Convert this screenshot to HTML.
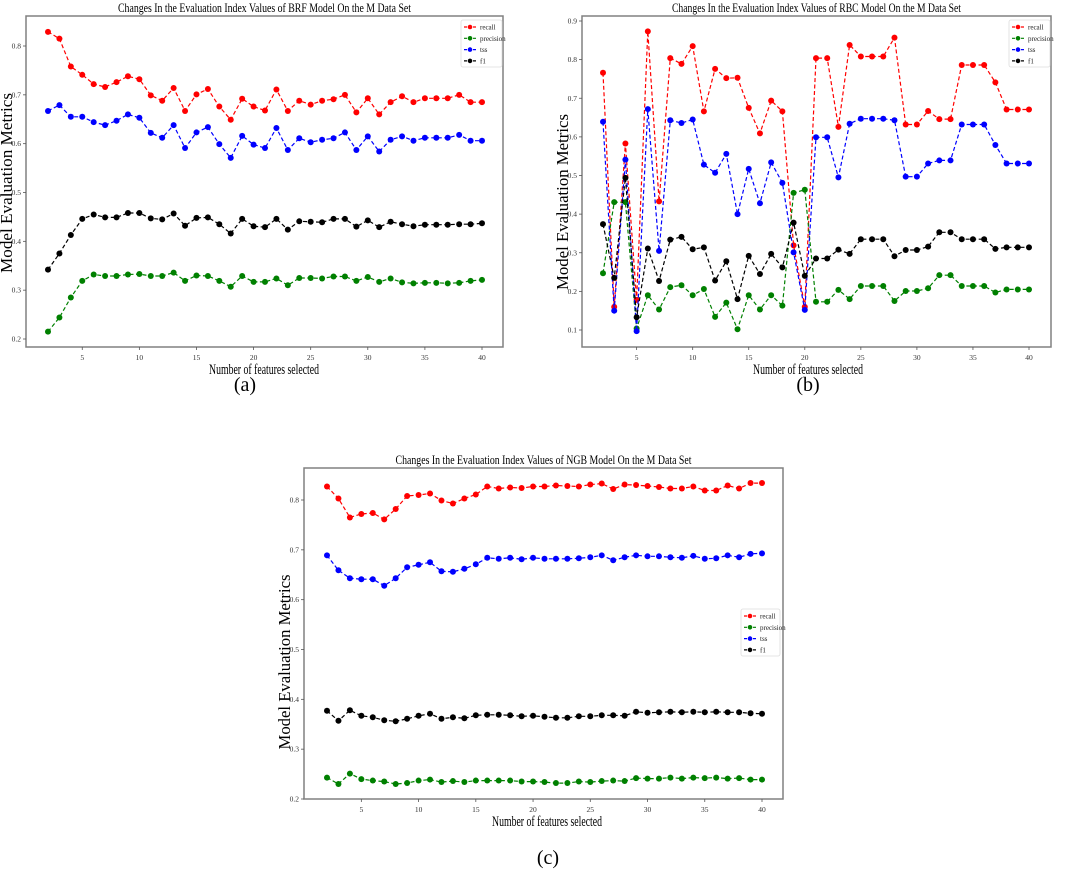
<!DOCTYPE html>
<html><head><meta charset="utf-8"><style>
html,body{margin:0;padding:0;background:#fff;}
svg{display:block;}
text{font-family:"Liberation Serif",serif;}
</style></head><body>
<svg id="fig" width="1065" height="880" viewBox="0 0 1065 880" xmlns="http://www.w3.org/2000/svg">
<text x="245" y="391" font-size="20" text-anchor="middle">(a)</text>
<text x="808" y="391" font-size="20" text-anchor="middle">(b)</text>
<text x="548" y="864" font-size="20" text-anchor="middle">(c)</text>
</svg>
<script>
// x values (number of features)
const featureCounts = [2,3,4,5,6,7,8,9,10,11,12,13,14,15,16,17,18,19,20,21,22,23,24,25,26,27,28,29,30,31,32,33,34,35,36,37,38,39,40];
const xTicks = [5,10,15,20,25,30,35,40];
const seriesNames = ["recall","precision","tss","f1"];
const seriesColors = ["#ff0000","#008000","#0000ff","#000000"];

// Chart A: BRF
const brfRecall = [.829,.815,.758,.741,.722,.716,.726,.738,.732,.699,.688,.714,.667,.701,.712,.676,.649,.692,.676,.668,.711,.667,.688,.680,.688,.691,.700,.664,.693,.660,.685,.697,.685,.693,.693,.693,.700,.685,.685];
const brfPrecision = [.215,.244,.285,.319,.332,.329,.329,.332,.333,.329,.329,.336,.319,.330,.329,.319,.307,.329,.317,.317,.324,.310,.325,.325,.324,.328,.328,.319,.327,.317,.324,.316,.314,.315,.315,.314,.315,.319,.321];
const brfTss = [.667,.679,.655,.655,.644,.638,.647,.660,.653,.622,.612,.638,.591,.623,.634,.599,.571,.616,.598,.591,.632,.587,.611,.603,.608,.611,.623,.587,.615,.584,.608,.615,.606,.612,.612,.612,.618,.606,.606];
const brfF1 = [.342,.375,.413,.446,.455,.449,.449,.458,.458,.447,.445,.457,.432,.448,.449,.435,.416,.446,.431,.429,.446,.424,.441,.440,.439,.446,.446,.430,.443,.429,.440,.435,.431,.434,.434,.434,.435,.435,.437];
const brfYTicks = [0.2,0.3,0.4,0.5,0.6,0.7,0.8];

// Chart B: RBC
const rbcRecall = [.766,.160,.583,.178,.873,.433,.804,.789,.835,.666,.776,.752,.753,.675,.609,.694,.666,.319,.160,.804,.804,.626,.838,.808,.808,.808,.857,.632,.632,.667,.646,.646,.786,.786,.786,.741,.671,.671,.671];
const rbcPrecision = [.247,.431,.431,.104,.190,.153,.211,.216,.190,.206,.134,.171,.102,.190,.153,.190,.163,.455,.463,.173,.173,.204,.180,.214,.214,.214,.175,.201,.201,.208,.242,.242,.214,.214,.214,.197,.205,.205,.205];
const rbcTss = [.639,.150,.541,.097,.672,.305,.643,.636,.645,.528,.507,.556,.400,.517,.428,.534,.481,.301,.152,.599,.599,.495,.634,.647,.647,.647,.643,.497,.497,.531,.539,.539,.632,.632,.632,.579,.531,.531,.531];
const rbcF1 = [.374,.235,.494,.133,.311,.227,.334,.341,.309,.314,.228,.278,.180,.292,.245,.297,.262,.378,.240,.285,.285,.308,.297,.335,.335,.335,.291,.307,.307,.316,.353,.353,.335,.335,.335,.310,.314,.314,.314];
const rbcYTicks = [0.1,0.2,0.3,0.4,0.5,0.6,0.7,0.8,0.9];

// Chart C: NGB
const ngbRecall = [.827,.803,.765,.772,.774,.761,.782,.808,.810,.813,.799,.793,.803,.811,.827,.823,.825,.824,.827,.827,.829,.828,.827,.831,.833,.822,.831,.830,.828,.826,.823,.823,.827,.819,.819,.829,.823,.834,.834];
const ngbPrecision = [.243,.230,.251,.240,.237,.235,.230,.232,.237,.239,.234,.236,.234,.237,.237,.237,.237,.235,.235,.234,.232,.232,.235,.234,.236,.237,.236,.242,.241,.241,.243,.241,.243,.242,.243,.241,.242,.239,.239];
const ngbTss = [.689,.659,.643,.641,.641,.628,.643,.665,.670,.675,.657,.656,.662,.671,.684,.682,.684,.681,.684,.682,.682,.682,.683,.685,.689,.679,.685,.689,.687,.687,.685,.684,.688,.682,.683,.689,.685,.692,.693];
const ngbF1 = [.377,.357,.378,.367,.364,.358,.356,.361,.367,.371,.361,.364,.362,.368,.369,.369,.368,.366,.367,.365,.363,.363,.366,.366,.368,.368,.367,.375,.373,.374,.375,.374,.375,.374,.375,.374,.374,.372,.371];
const ngbYTicks = [0.2,0.3,0.4,0.5,0.6,0.7,0.8];

const NS = "http://www.w3.org/2000/svg";
const svg = document.getElementById("fig");
function mk(tag, attrs, parent){
  const e = document.createElementNS(NS, tag);
  for (const k in attrs) e.setAttribute(k, attrs[k]);
  (parent||svg).appendChild(e);
  return e;
}

function drawChart(key, geo, series, yTicks, title){
  const g = mk("g", {});
  
  
  const xs = v => geo.x0 + (v - 2) * (geo.x1 - geo.x0) / 38;
  const ys = v => geo.yA + (v - geo.vA) * (geo.yB - geo.yA) / (geo.vB - geo.vA);
  const frame = mk("rect", {x:geo.L, y:geo.T, width:geo.R-geo.L, height:geo.B-geo.T, fill:"none", stroke:"#808080", "stroke-width":1.5}, g);
  
  
  const t = mk("text", {x:(geo.L+geo.R)/2, y:geo.T-4, "font-size":13, "text-anchor":"middle", textLength:geo.titleW, lengthAdjust:"spacingAndGlyphs"}, g);
  t.textContent = title;
  
  
  xTicks.forEach(v => {
    const x = xs(v);
    mk("line", {x1:x, x2:x, y1:geo.B, y2:geo.B+3, stroke:"#555", "stroke-width":0.8}, g);
    const tl = mk("text", {x:x, y:geo.B+13, "font-size":7.5, "text-anchor":"middle", fill:"#333", "font-family":"Liberation Sans, sans-serif"}, g);
    tl.textContent = String(v);
    
    
  });
  yTicks.forEach(v => {
    const y = ys(v);
    mk("line", {x1:geo.L-3, x2:geo.L, y1:y, y2:y, stroke:"#555", "stroke-width":0.8}, g);
    const tl = mk("text", {x:geo.L-5, y:y+2.5, "font-size":7.5, "text-anchor":"end", fill:"#333", "font-family":"Liberation Sans, sans-serif"}, g);
    tl.textContent = String(v);
    
    
  });
  const xl = mk("text", {x:geo.xlX, y:geo.xlY, "font-size":15, "text-anchor":"middle", textLength:110, lengthAdjust:"spacingAndGlyphs"}, g);
  xl.textContent = "Number of features selected";
  
  
  const yl = mk("text", {x:0, y:0, "font-size":17, "text-anchor":"middle", textLength:geo.ylLen, lengthAdjust:"spacingAndGlyphs", transform:"translate("+geo.ylX+","+geo.ylY+") rotate(-90)"}, g);
  yl.textContent = "Model Evaluation Metrics";
  
  
  series.forEach((vals, si) => {
    const sg = mk("g", {}, g);
    
    
    const pts = vals.map((v,i) => xs(featureCounts[i]).toFixed(1)+","+ys(v).toFixed(1)).join(" ");
    mk("polyline", {points:pts, fill:"none", stroke:seriesColors[si], "stroke-width":1.2, "stroke-dasharray":"4,2.5"}, sg);
    vals.forEach((v,i) => {
      const c = mk("circle", {cx:xs(featureCounts[i]), cy:ys(v), r:3, fill:seriesColors[si]}, sg);
      
      
    });
  });
  const lg = mk("g", {}, g);
  
  
  mk("rect", {x:geo.lgX, y:geo.lgY, width:geo.lgW, height:47, fill:"#fff", stroke:"#ddd", "stroke-width":0.8, rx:2}, lg);
  seriesNames.forEach((n, si) => {
    const y = geo.lgY + 7 + si*11.3;
    mk("line", {x1:geo.lgX+3, x2:geo.lgX+15, y1:y, y2:y, stroke:seriesColors[si], "stroke-width":1.2, "stroke-dasharray":"3,1.5"}, lg);
    mk("circle", {cx:geo.lgX+9, cy:y, r:2.3, fill:seriesColors[si]}, lg);
    const lt = mk("text", {x:geo.lgX+19, y:y+2.5, "font-size":7, fill:"#222", "font-family":"Liberation Sans, sans-serif"}, lg);
    lt.textContent = n;
    
    
  });
}

drawChart("brf",
  {L:26,T:16,R:503,B:347,x0:48,x1:482,yA:46,vA:0.8,yB:339,vB:0.2,titleW:293,xlX:264,xlY:374,ylX:12,ylY:183,ylLen:180,lgX:461,lgY:20,lgW:41},
  [brfRecall,brfPrecision,brfTss,brfF1], brfYTicks,
  "Changes In the Evaluation Index Values of BRF Model On the M Data Set");
drawChart("rbc",
  {L:582,T:16,R:1051,B:347,x0:603,x1:1029,yA:21,vA:0.9,yB:330,vB:0.1,titleW:289,xlX:808,xlY:374,ylX:568,ylY:202,ylLen:176,lgX:1009,lgY:20,lgW:41},
  [rbcRecall,rbcPrecision,rbcTss,rbcF1], rbcYTicks,
  "Changes In the Evaluation Index Values of RBC Model On the M Data Set");
drawChart("ngb",
  {L:304,T:468,R:783,B:799,x0:327,x1:762,yA:500,vA:0.8,yB:799,vB:0.2,titleW:296,xlX:547,xlY:826,ylX:290,ylY:662,ylLen:175,lgX:741,lgY:609,lgW:39},
  [ngbRecall,ngbPrecision,ngbTss,ngbF1], ngbYTicks,
  "Changes In the Evaluation Index Values of NGB Model On the M Data Set");
</script>
</body></html>
